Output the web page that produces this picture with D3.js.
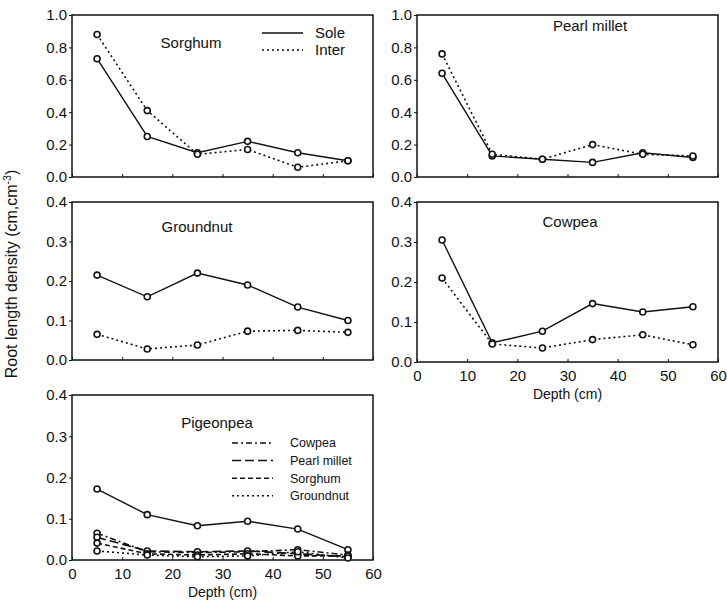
<!DOCTYPE html>
<html>
<head>
<meta charset="utf-8">
<script src="https://cdn.jsdelivr.net/npm/d3@7"></script>
<style>
  body { margin: 0; background: #fff; }
  text { font-family: "Liberation Sans", Arial, sans-serif; fill: #111; }
</style>
</head>
<body>
<div id="chart"></div>
<script>
// depth (cm) of each sampling layer
const depths = [5, 15, 25, 35, 45, 55];
const xTicks = [0, 10, 20, 30, 40, 50, 60];

// root length density, sole vs intercrop
const sorghumSole = [0.73, 0.25, 0.15, 0.22, 0.15, 0.10];
const sorghumInter = [0.88, 0.41, 0.14, 0.17, 0.06, 0.10];
const milletSole = [0.64, 0.13, 0.11, 0.09, 0.15, 0.12];
const milletInter = [0.76, 0.14, 0.11, 0.20, 0.14, 0.13];
const groundnutSole = [0.215, 0.16, 0.22, 0.19, 0.134, 0.10];
const groundnutInter = [0.065, 0.028, 0.038, 0.073, 0.075, 0.07];
const cowpeaSole = [0.305, 0.048, 0.077, 0.146, 0.125, 0.138];
const cowpeaInter = [0.21, 0.045, 0.035, 0.056, 0.068, 0.043];

// pigeonpea sole and when intercropped with each crop
const pigeonSole = [0.172, 0.11, 0.083, 0.094, 0.075, 0.025];
const pigeonCowpea = [0.065, 0.02, 0.018, 0.02, 0.025, 0.012];
const pigeonMillet = [0.055, 0.022, 0.02, 0.022, 0.015, 0.008];
const pigeonSorghum = [0.041, 0.015, 0.012, 0.015, 0.01, 0.01];
const pigeonGroundnut = [0.022, 0.012, 0.008, 0.01, 0.02, 0.005];

const yTicksBig = [0, 0.2, 0.4, 0.6, 0.8, 1.0];
const yTicksSmall = [0, 0.1, 0.2, 0.3, 0.4];

const svg = d3.select("#chart").append("svg")
    .attr("width", 727)
    .attr("height", 603);

const dashes = {
    solid: null,
    dot: "2,3",
    dashdot: "6,3,2,3",
    longdash: "9,4",
    shortdash: "5,3"
};

function panel(cfg) {
    const x = d3.scaleLinear().domain([0, 60]).range([cfg.x0, cfg.x1]);
    const y = d3.scaleLinear().domain([0, cfg.ymax]).range([cfg.y1, cfg.y0]);
    const g = svg.append("g");

    // y axis labels + ticks
    const ya = g.append("g")
        .attr("transform", `translate(${cfg.x0},0)`)
        .call(d3.axisLeft(y).tickValues(cfg.yTicks).tickSize(3).tickPadding(2).tickFormat(d3.format(".1f")));
    ya.select(".domain").remove();
    ya.selectAll("text").style("font-size", "15px").style("font-family", "Liberation Sans, Arial, sans-serif").attr("fill", "#111");
    ya.selectAll("line").attr("stroke", "#111");

    // x axis ticks (inward), labels only on bottom panels
    const xa = g.append("g")
        .attr("transform", `translate(0,${cfg.y1})`)
        .call(d3.axisBottom(x).tickValues(xTicks).tickSize(-3).tickPadding(8)
            .tickFormat(cfg.xLabels ? d3.format("d") : ""));
    xa.select(".domain").remove();
    xa.selectAll("text").style("font-size", "15px").style("font-family", "Liberation Sans, Arial, sans-serif").attr("fill", "#111");
    xa.selectAll("line").attr("stroke", "#111");

    // frame
    g.append("rect")
        .attr("x", cfg.x0).attr("y", cfg.y0)
        .attr("width", cfg.x1 - cfg.x0).attr("height", cfg.y1 - cfg.y0)
        .attr("fill", "none").attr("stroke", "#111").attr("stroke-width", 1.5);

    const line = d3.line().x((d, i) => x(depths[i])).y(d => y(d));

    cfg.series.forEach(s => {
        g.append("path")
            .datum(s.values)
            .attr("d", line)
            .attr("fill", "none")
            .attr("stroke", "#111")
            .attr("stroke-width", s.style === "solid" ? 1.4 : 1.6)
            .attr("stroke-dasharray", dashes[s.style]);
        g.selectAll(null)
            .data(s.values)
            .join("circle")
            .attr("cx", (d, i) => x(depths[i]))
            .attr("cy", d => y(d))
            .attr("r", 3)
            .attr("fill", "#fff")
            .attr("stroke", "#111")
            .attr("stroke-width", 1.6);
    });

    g.append("text")
        .attr("x", cfg.titleX).attr("y", cfg.titleY)
        .attr("text-anchor", "middle")
        .attr("dy", "0.35em")
        .style("font-size", "15px")
        .text(cfg.title);

    if (cfg.xLabels) {
        g.append("text")
            .attr("x", (cfg.x0 + cfg.x1) / 2)
            .attr("y", cfg.y1 + 32)
            .attr("text-anchor", "middle")
            .attr("dy", "0.35em")
            .style("font-size", "14px")
            .text("Depth (cm)");
    }
    return g;
}

const left = [72, 373], right = [417, 718];

const p1 = panel({ x0: left[0], x1: left[1], y0: 15, y1: 177, ymax: 1.0, yTicks: yTicksBig,
    title: "Sorghum", titleX: 191, titleY: 43,
    series: [{ values: sorghumSole, style: "solid" }, { values: sorghumInter, style: "dot" }] });
panel({ x0: right[0], x1: right[1], y0: 15, y1: 177, ymax: 1.0, yTicks: yTicksBig,
    title: "Pearl millet", titleX: 590, titleY: 26,
    series: [{ values: milletSole, style: "solid" }, { values: milletInter, style: "dot" }] });
panel({ x0: left[0], x1: left[1], y0: 202, y1: 360, ymax: 0.4, yTicks: yTicksSmall,
    title: "Groundnut", titleX: 197, titleY: 227,
    series: [{ values: groundnutSole, style: "solid" }, { values: groundnutInter, style: "dot" }] });
panel({ x0: right[0], x1: right[1], y0: 202, y1: 362, ymax: 0.4, yTicks: yTicksSmall,
    title: "Cowpea", titleX: 570, titleY: 222, xLabels: true,
    series: [{ values: cowpeaSole, style: "solid" }, { values: cowpeaInter, style: "dot" }] });
const p5 = panel({ x0: left[0], x1: left[1], y0: 395, y1: 560, ymax: 0.4, yTicks: yTicksSmall,
    title: "Pigeonpea", titleX: 217, titleY: 423, xLabels: true,
    series: [
        { values: pigeonSole, style: "solid" },
        { values: pigeonCowpea, style: "dashdot" },
        { values: pigeonMillet, style: "longdash" },
        { values: pigeonSorghum, style: "shortdash" },
        { values: pigeonGroundnut, style: "dot" }
    ] });

// legend, sorghum panel
const leg1 = [["Sole", "solid"], ["Inter", "dot"]];
leg1.forEach((d, i) => {
    const yy = 33 + i * 17;
    p1.append("line").attr("x1", 262).attr("x2", 303).attr("y1", yy).attr("y2", yy)
        .attr("stroke", "#111").attr("stroke-width", 1.5).attr("stroke-dasharray", dashes[d[1]]);
    p1.append("text").attr("x", 315).attr("y", yy).attr("dy", "0.35em")
        .style("font-size", "15px").text(d[0]);
});

// legend, pigeonpea panel
const leg5 = [["Cowpea", "dashdot"], ["Pearl millet", "longdash"], ["Sorghum", "shortdash"], ["Groundnut", "dot"]];
leg5.forEach((d, i) => {
    const yy = 443 + i * 17.6;
    p5.append("line").attr("x1", 232).attr("x2", 273).attr("y1", yy).attr("y2", yy)
        .attr("stroke", "#111").attr("stroke-width", 1.5).attr("stroke-dasharray", dashes[d[1]]);
    p5.append("text").attr("x", 290).attr("y", yy).attr("dy", "0.35em")
        .style("font-size", "12.5px").text(d[0]);
});

// shared y label
svg.append("text")
    .attr("transform", "translate(11,274) rotate(-90)")
    .attr("text-anchor", "middle")
    .attr("dy", "0.35em")
    .style("font-size", "16px")
    .html('Root length density (cm,cm<tspan dy="-6" font-size="10.5px">-3</tspan><tspan dy="6">)</tspan>');
</script>
</body>
</html>
